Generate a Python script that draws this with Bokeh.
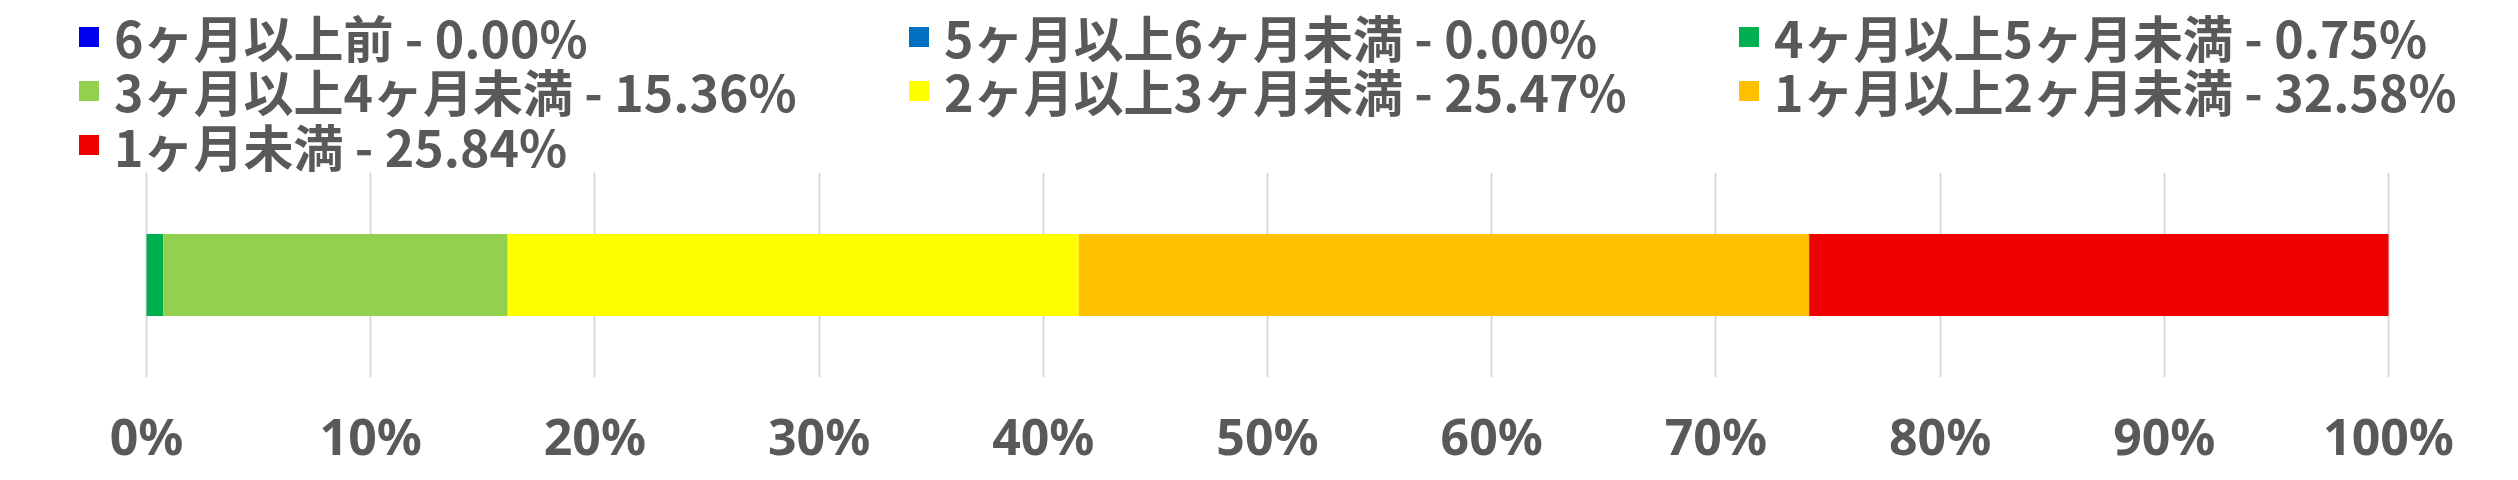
from bokeh.plotting import figure
from bokeh.layouts import column
from bokeh.models import ColumnDataSource, Range1d, Legend, LegendItem, NumeralTickFormatter, FixedTicker
from bokeh.embed import file_html
from bokeh.resources import INLINE

# ---- data ----
categories = ["6ヶ月以上前", "5ヶ月以上6ヶ月未満", "4ヶ月以上5ヶ月未満",
              "3ヶ月以上4ヶ月未満", "2ヶ月以上3ヶ月未満", "1ヶ月以上2ヶ月未満", "1ヶ月未満"]
percents = [0.00, 0.00, 0.75, 15.36, 25.47, 32.58, 25.84]
colors = ["#0000EE", "#0070C0", "#00B050", "#92D050", "#FFFF00", "#FFC000", "#EE0000"]
tick_values = [0.0, 0.1, 0.2, 0.3, 0.4, 0.5, 0.6, 0.7, 0.8, 0.9, 1.0]

FONT = "Noto Sans CJK JP"
TICK_FONT = "Noto Sans"
TEXT_COLOR = "#595959"

W = 2510
LEG_H = 172
MAIN_H = 300
PLOT_L, PLOT_R = 146, 2388          # pixel positions of 0% and 100%
span = PLOT_R - PLOT_L

# ---------------- main chart ----------------
keys = [f"s{i}" for i in range(len(categories))]
data = {"y": [0.5]}
for k, v in zip(keys, percents):
    data[k] = [v / 100.0]
source = ColumnDataSource(data)

p = figure(width=W, height=MAIN_H, output_backend="svg", toolbar_location=None,
           x_range=Range1d(-PLOT_L / span, 1 + (W - PLOT_R) / span), y_range=Range1d(0, 1),
           min_border_left=0, min_border_right=0,
           min_border_top=0, min_border_bottom=MAIN_H - 206)
p.outline_line_color = None
p.background_fill_color = "white"
p.border_fill_color = "white"

renderers = p.hbar_stack(keys, y="y", height=0.40, color=colors, line_color=None, source=source)

p.yaxis.visible = False
p.ygrid.grid_line_color = None
p.xgrid.grid_line_color = "#D9D9D9"
p.xgrid.grid_line_width = 2
p.xaxis.ticker = FixedTicker(ticks=tick_values)
p.xaxis.formatter = NumeralTickFormatter(format="0%")
p.xaxis.axis_line_color = None
p.xaxis.major_tick_line_color = None
p.xaxis.minor_tick_line_color = None
p.xaxis.major_tick_out = 0
p.xaxis.major_tick_in = 0
p.xaxis.major_label_text_font = TICK_FONT
p.xaxis.major_label_text_font_style = "bold"
p.xaxis.major_label_text_font_size = "50px"
p.xaxis.major_label_text_color = TEXT_COLOR
p.xaxis.major_label_standoff = 24

# ---------------- legend strip ----------------
lg = figure(width=W, height=LEG_H, output_backend="svg", toolbar_location=None,
            x_range=Range1d(0, 1), y_range=Range1d(0, 1),
            x_axis_type=None, y_axis_type=None, min_border=0)
lg.outline_line_color = None
lg.xgrid.visible = False
lg.ygrid.visible = False

labels = [f"{c} - {v:.2f}%" for c, v in zip(categories, percents)]
# swatch renderers for the legend (their bars lie outside the visible range)
leg_renderers = [lg.hbar(y=[-5], right=[v / 100.0], height=0.1, color=c, line_color=None)
                 for c, v in zip(colors, percents)]

# legend entries fill 3 columns row by row (like the original)
col_x = [76, 906, 1736]
row_centers = [39, 93, 147.5]
item_h = 66
for i, (lab, r) in enumerate(zip(labels, leg_renderers)):
    row, col = divmod(i, 3)
    bottom = row_centers[row] + item_h / 2
    leg = Legend(items=[LegendItem(label=lab, renderers=[r])],
                 location=(col_x[col], LEG_H - bottom),
                 orientation="vertical", padding=0, margin=0, spacing=0,
                 glyph_width=25, glyph_height=25, label_standoff=13, label_height=40,
                 label_text_font=FONT, label_text_font_style="bold",
                 label_text_font_size="50px", label_text_color=TEXT_COLOR,
                 border_line_color=None, background_fill_alpha=0)
    lg.add_layout(leg, "center")

layout = column(lg, p, spacing=0)
open("out.html", "w").write(file_html(layout, INLINE))
